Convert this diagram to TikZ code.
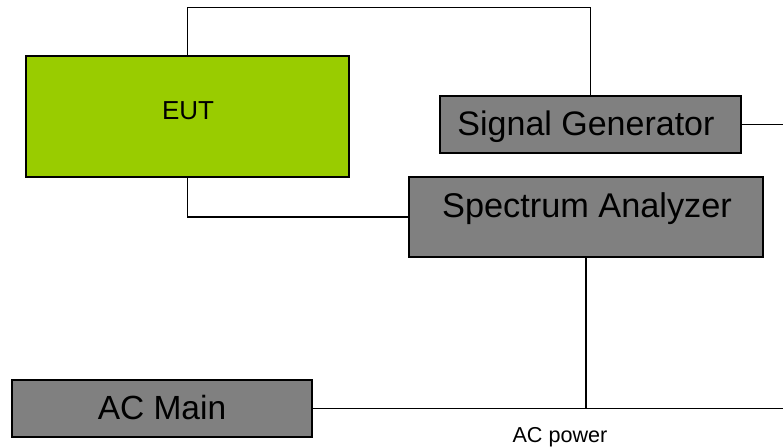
\documentclass[tikz,border=0pt]{standalone}
\usepackage{fontspec}
\setmainfont{Liberation Sans}
\begin{document}
\begin{tikzpicture}[x=1pt,y=-1pt,
  box/.style={draw=black,line width=1.7pt,inner sep=0pt,rectangle},
  greenbox/.style={box,fill=eutgreen},
  graybox/.style={box,fill=boxgray},
  lbl/.style={inner sep=0pt,anchor=base},
  wire/.style={draw=black,line width=1.9pt}]
\definecolor{eutgreen}{HTML}{99CC00}
\definecolor{boxgray}{HTML}{808080}
\useasboundingbox (0,0) rectangle (783,447);
% boxes
\node[greenbox,minimum width=323pt,minimum height=121pt] (eut) at (187.5,116.5) {};
\node[graybox,minimum width=301pt,minimum height=57pt] (sg) at (590.5,124.5) {};
\node[graybox,minimum width=354pt,minimum height=80pt] (sa) at (586,217) {};
\node[graybox,minimum width=300pt,minimum height=57pt] (acm) at (162,408.5) {};
% texts
\node[lbl,font=\fontsize{26}{30}\selectfont] (eutt) at (188,119) {EUT};
\node[lbl,font=\fontsize{34}{40}\selectfont] (sgt) at (586,135) {Signal Generator};
\node[lbl,font=\fontsize{34.3}{40}\selectfont] (sat) at (587,217) {Spectrum Analyzer};
\node[lbl,font=\fontsize{33.5}{38}\selectfont] (acmt) at (162,419) {AC Main};
\node[lbl,font=\fontsize{21.6}{25}\selectfont] (acp) at (560,442) {AC power};
% free ends
\coordinate (top) at (0,7.5);
\coordinate (sgend) at (783,124.5);
\coordinate (acend) at (783,408.5);
% connectors
\draw[wire] (eut.north) -- (eut.north |- top) -- (sg.north |- top) -- (sg.north);
\draw[wire] (eut.south) |- (sa.west);
\draw[wire] (sg.east) -- (sgend);
\draw[wire] (acm.east) -- (acend);
\draw[wire] (sa.south) -- (sa.south |- acend);
\end{tikzpicture}
\end{document}
